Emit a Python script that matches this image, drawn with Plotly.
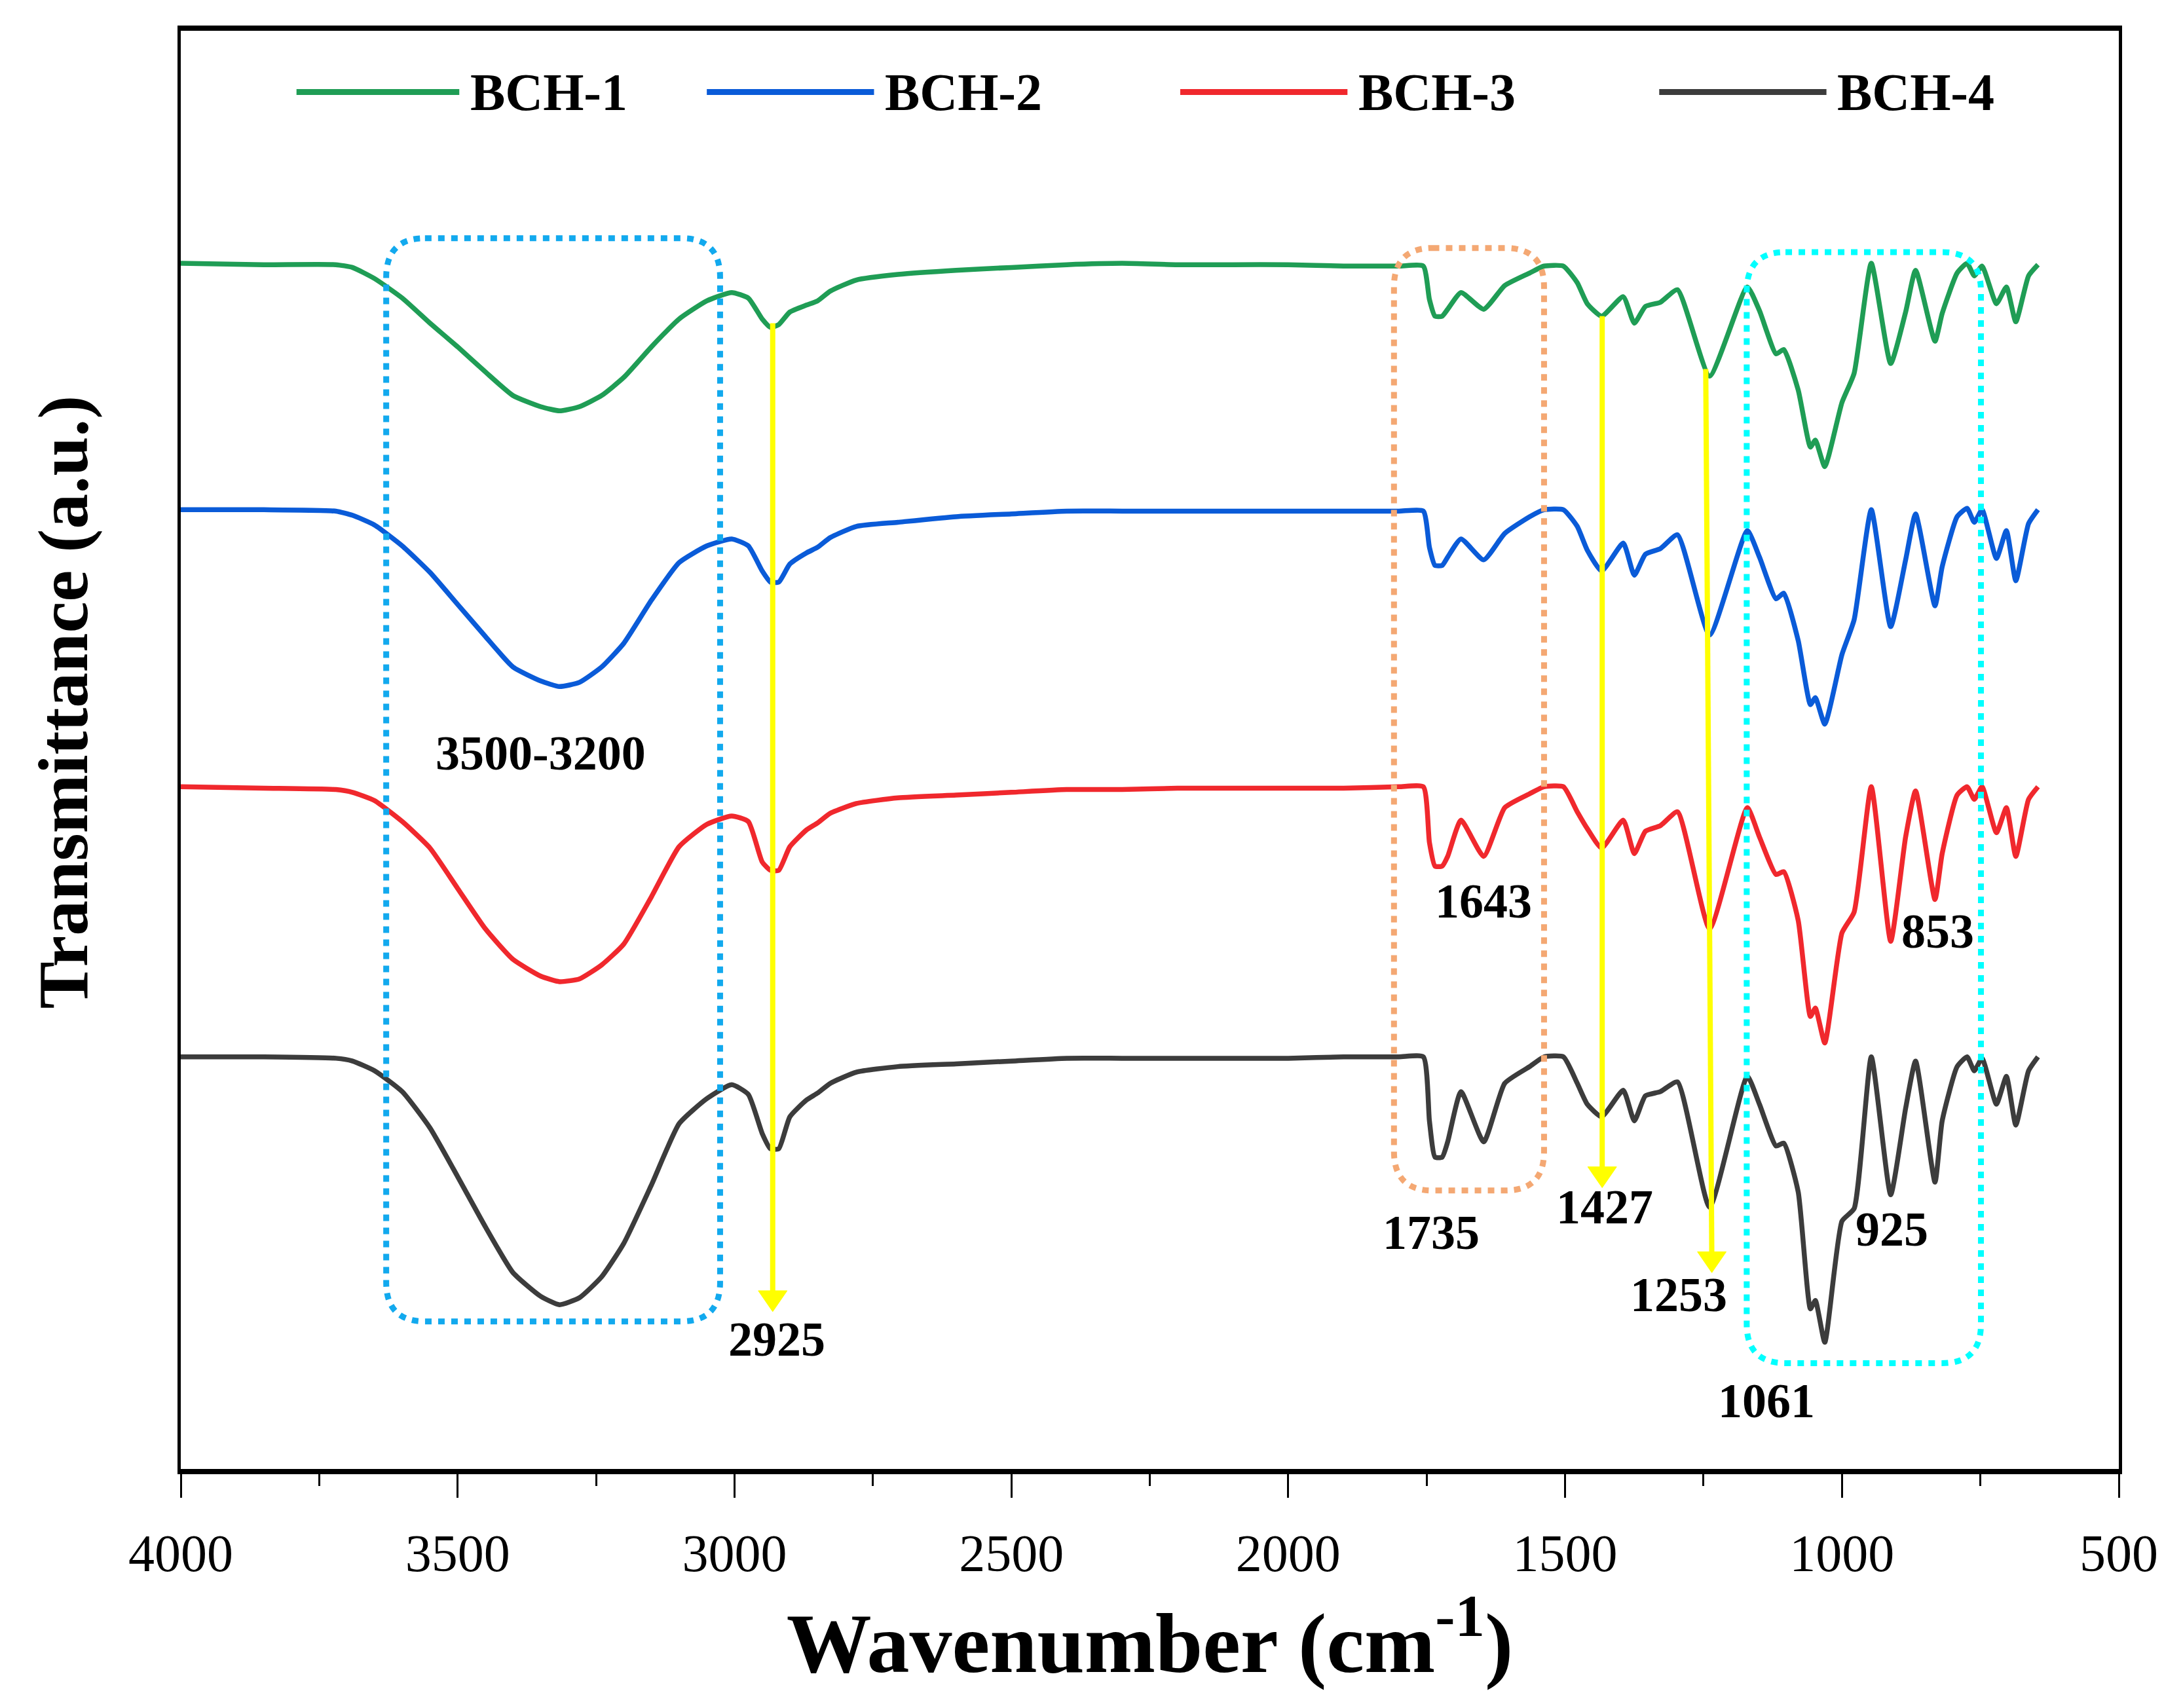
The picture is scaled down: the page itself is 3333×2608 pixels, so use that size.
import plotly.graph_objects as go

# FTIR spectra of BCH-1..4 (a.u., curves offset)
wavenumber = [4000, 3850, 3720, 3690, 3650, 3600, 3550, 3500, 3450, 3400,
              3350, 3316, 3280, 3240, 3200, 3150, 3100, 3050, 3005, 2975,
              2950, 2935, 2920, 2900, 2870, 2850, 2827, 2780, 2705,
              2600, 2500, 2400, 2300, 2200, 2100, 2000, 1900, 1800, 1756,
              1745, 1735, 1722, 1712, 1688, 1647, 1609, 1564, 1538, 1503,
              1478, 1460, 1434, 1395, 1375, 1355, 1328, 1297, 1239, 1171,
              1149, 1119, 1105, 1079, 1057, 1048, 1031, 1000, 978, 947,
              912, 885, 867, 832, 819, 792, 774, 761, 747, 721,
              703, 686, 663, 646]

bch1 = [86.6, 86.5, 86.5, 86.3, 85.5, 84.1, 82.3, 80.6, 78.8, 77.1,
        76.3, 76.0, 76.3, 77.1, 78.4, 80.6, 82.6, 83.9, 84.5, 84.1,
        82.6, 82.0, 82.2, 83.1, 83.6, 83.9, 84.6, 85.4, 85.8,
        86.1, 86.3, 86.5, 86.6, 86.5, 86.5, 86.5, 86.4, 86.4, 86.4,
        84.0, 82.8, 82.8, 83.3, 84.5, 83.3, 85.0, 85.9, 86.4, 86.4,
        85.2, 83.7, 82.8, 84.2, 82.3, 83.5, 83.8, 84.7, 78.5, 84.9,
        83.2, 80.1, 80.4, 77.5, 73.4, 73.9, 72.0, 76.6, 78.7, 86.6,
        79.4, 83.1, 86.1, 81.0, 83.0, 85.9, 86.6, 85.7, 86.4, 83.7,
        84.9, 82.4, 85.7, 86.5]

bch2 = [68.9, 68.9, 68.8, 68.5, 67.8, 66.3, 64.4, 62.1, 59.8, 57.6,
        56.6, 56.2, 56.5, 57.6, 59.3, 62.4, 65.1, 66.3, 66.8, 66.3,
        64.5, 63.7, 63.7, 65.0, 65.8, 66.2, 66.9, 67.7, 68.0,
        68.4, 68.6, 68.8, 68.8, 68.8, 68.8, 68.8, 68.8, 68.8, 68.8,
        66.2, 64.9, 64.9, 65.5, 66.8, 65.3, 67.2, 68.4, 68.9, 68.9,
        67.7, 66.0, 64.5, 66.5, 64.2, 65.7, 66.1, 67.1, 59.9, 67.4,
        65.5, 62.5, 62.9, 59.5, 54.9, 55.4, 53.5, 58.5, 61.0, 68.9,
        60.5, 65.3, 68.6, 62.0, 64.8, 68.4, 69.0, 68.0, 68.9, 65.4,
        67.4, 63.8, 67.9, 68.9]

bch3 = [49.0, 48.9, 48.8, 48.6, 48.0, 46.5, 44.6, 41.7, 38.8, 36.6,
        35.4, 35.0, 35.2, 36.2, 37.7, 41.1, 44.7, 46.3, 46.9, 46.5,
        43.6, 43.0, 43.0, 44.7, 45.9, 46.4, 47.1, 47.8, 48.2,
        48.4, 48.6, 48.8, 48.8, 48.9, 48.9, 48.9, 48.9, 49.0, 49.0,
        45.0, 43.3, 43.3, 44.0, 46.6, 44.0, 47.5, 48.5, 49.0, 49.0,
        47.2, 46.0, 44.6, 46.6, 44.2, 45.8, 46.2, 47.2, 38.8, 47.5,
        45.4, 42.7, 42.9, 39.4, 32.5, 33.1, 30.6, 38.5, 40.0, 49.0,
        37.9, 45.4, 48.7, 40.9, 44.2, 48.4, 49.0, 48.1, 49.0, 45.7,
        47.5, 44.0, 48.1, 49.0]

bch4 = [29.6, 29.6, 29.5, 29.3, 28.6, 27.1, 24.5, 21.0, 17.4, 14.1,
        12.4, 11.8, 12.3, 13.8, 16.2, 20.4, 24.8, 26.6, 27.6, 26.9,
        24.1, 23.0, 23.0, 25.3, 26.5, 27.0, 27.7, 28.5, 28.9,
        29.1, 29.3, 29.5, 29.5, 29.5, 29.5, 29.5, 29.6, 29.6, 29.6,
        25.0, 22.4, 22.4, 23.5, 27.1, 23.5, 27.7, 28.9, 29.6, 29.6,
        27.7, 26.2, 25.3, 27.2, 25.0, 26.8, 27.1, 27.8, 18.8, 28.2,
        26.2, 23.2, 23.4, 19.9, 11.5, 12.1, 9.1, 17.8, 18.7, 29.6,
        19.7, 25.9, 29.3, 20.6, 25.0, 28.9, 29.6, 28.6, 29.5, 26.2,
        28.2, 24.7, 28.6, 29.6]

names = ["BCH-1", "BCH-2", "BCH-3", "BCH-4"]
colors = ["#1f9d55", "#0a5bd8", "#f0282d", "#3c3c3c"]
series = [bch1, bch2, bch3, bch4]

# peak labels: text, x (cm-1), y (a.u.)
peak_labels = ["3500-3200", "2925", "1643", "1735", "1427", "1253", "1061", "925", "853"]
peak_x = [3350, 2924, 1647, 1742, 1429, 1295, 1136, 910, 827]
peak_y = [51.4, 9.3, 40.8, 17.0, 18.8, 12.5, 4.9, 17.2, 38.6]

FONT = "Liberation Serif"

fig = go.Figure()
for name, ys, col in zip(names, series, colors):
    fig.add_trace(go.Scatter(x=wavenumber, y=ys, name=name, mode="lines",
                             line=dict(color=col, width=7.5, shape="spline", smoothing=0.5),
                             showlegend=False))


def rounded_box(x0, x1, y0, y1, rx, ry):
    # x0 left edge, x1 right edge (axis is reversed so x0 > x1)
    sx = rx if x1 > x0 else -rx
    return (f"M {x0+sx},{y1} L {x1-sx},{y1} Q {x1},{y1} {x1},{y1-ry} "
            f"L {x1},{y0+ry} Q {x1},{y0} {x1-sx},{y0} L {x0+sx},{y0} "
            f"Q {x0},{y0} {x0},{y0+ry} L {x0},{y1-ry} Q {x0},{y1} {x0+sx},{y1} Z")


shapes = []
for (x0, x1, y0, y1, c) in [(3629, 3026, 10.6, 88.4, "#12a9ee"),
                            (1809, 1538, 20.0, 87.7, "#f4a873"),
                            (1172, 749, 7.6, 87.4, "#00ffff")]:
    shapes.append(dict(type="path", xref="x", yref="y",
                       path=rounded_box(x0, x1, y0, y1, 70, 2.8),
                       line=dict(color=c, width=9, dash="10px,10px")))

# yellow arrows: shaft + filled head
for (xt, yt, xh, yh) in [(2931, 82.3, 2931, 11.3), (1433, 82.8, 1433, 20.2),
                         (1246, 79.0, 1235, 14.1)]:
    shapes.append(dict(type="line", xref="x", yref="y", x0=xt, y0=yt, x1=xh, y1=yh + 1.0,
                       line=dict(color="#ffff00", width=8)))
    shapes.append(dict(type="path", xref="x", yref="y",
                       path=f"M {xh-26},{yh+1.5} L {xh+26},{yh+1.5} L {xh},{yh} Z",
                       fillcolor="#ffff00", line=dict(color="#ffff00", width=1)))

# custom legend across the top
leg_x = [(3791, 3497), (3050, 2748), (2195, 1893), (1330, 1028)]
annotations = []
for (xa, xb), name, col in zip(leg_x, names, colors):
    shapes.append(dict(type="line", xref="x", yref="y", x0=xa, x1=xb, y0=98.9, y1=98.9,
                       line=dict(color=col, width=9)))
    annotations.append(dict(x=xb - 17, y=98.9, xref="x", yref="y", text=name,
                            showarrow=False, xanchor="left", yanchor="middle",
                            font=dict(family=FONT, size=80, color="black", weight="bold")))

for t, x, y in zip(peak_labels, peak_x, peak_y):
    annotations.append(dict(x=x, y=y, xref="x", yref="y", text=t, showarrow=False,
                            font=dict(family=FONT, size=74, color="black", weight="bold")))

annotations.append(dict(x=-0.0608, y=0.533, xref="paper", yref="paper",
                        xanchor="center", yanchor="middle",
                        text="Transmittance (a.u.)", textangle=-90, showarrow=False,
                        font=dict(family=FONT, size=108, color="black", weight="bold")))

fig.update_layout(
    width=3333, height=2608,
    margin=dict(l=268, r=106, t=39, b=373),
    paper_bgcolor="white", plot_bgcolor="white",
    font=dict(family=FONT, color="black"),
    shapes=shapes, annotations=annotations,
    xaxis=dict(range=[4000, 500], dtick=500, tick0=500, ticks="outside", ticklen=36,
               tickwidth=3, tickcolor="black", showgrid=False, zeroline=False,
               showline=True, linewidth=8, linecolor="black", mirror=True,
               ticklabelstandoff=16,
               tickfont=dict(family=FONT, size=80, color="black"),
               minor=dict(dtick=250, ticks="outside", ticklen=18, tickwidth=3,
                          tickcolor="black", showgrid=False),
               title=dict(text="Wavenumber (cm<sup>-1</sup>)", standoff=50,
                          font=dict(family=FONT, size=130, color="black", weight="bold"))),
    yaxis=dict(range=[0, 103.3], showticklabels=False, ticks="", showgrid=False,
               zeroline=False, showline=True, linewidth=5, linecolor="black", mirror=True),
)

fig.write_html("out.html")
